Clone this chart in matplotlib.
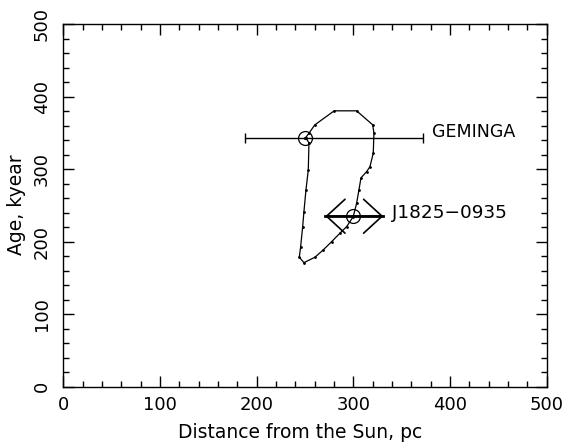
import numpy as np
import matplotlib
matplotlib.use("Agg")
import matplotlib.pyplot as plt
from matplotlib.ticker import MultipleLocator

# track of the common birth place (distance in pc, age in kyr)
track_dist = [250.7, 254.1, 260.2, 280.2, 303.4, 320.0, 321.3, 320.6, 317.2, 313.8,
              307.9, 305.8, 303.4, 299.9, 293.1, 286.1, 277.6, 268.9, 260.3, 248.9,
              244.1, 245.5, 247.6, 248.9, 251.0, 253.4, 254.1, 250.7]
track_age = [343.4, 349.5, 361.0, 380.3, 380.3, 361.0, 349.5, 322.0, 303.4, 296.6,
             287.9, 271.3, 253.0, 234.5, 220.7, 211.6, 200.0, 188.6, 178.5, 171.0,
             178.5, 193.1, 220.7, 241.4, 271.3, 298.9, 336.1, 343.4]

# pulsars
names = ["GEMINGA", "J1825\u22120935"]
psr_dist = [250, 300]
psr_age = [343, 235]
geminga_dist_lo = 188
geminga_dist_hi = 372
j1825_dist_lo = 271
j1825_dist_hi = 331

plt.rcParams["font.family"] = "DejaVu Sans"
fig = plt.figure(figsize=(5.65, 4.45), dpi=100)
ax = fig.add_axes([63.3 / 565, 1 - 386.7 / 445, 483.4 / 565, 362.7 / 445])

ax.plot(track_dist, track_age, color="black", lw=0.9, marker=".", ms=2)

# Geminga with distance error bar
ax.errorbar([psr_dist[0]], [psr_age[0]],
            xerr=[[psr_dist[0] - geminga_dist_lo], [geminga_dist_hi - psr_dist[0]]],
            fmt="none", ecolor="black", elinewidth=1.0, capsize=3.5, capthick=1.0)

# J1825-0935 with open arrows both sides
ax.plot([j1825_dist_lo, j1825_dist_hi], [psr_age[1], psr_age[1]], color="black", lw=2.0)
for end in (j1825_dist_lo, j1825_dist_hi):
    ax.annotate("", xy=(end, psr_age[1]), xytext=(psr_dist[1], psr_age[1]),
                arrowprops=dict(arrowstyle="->,head_length=1.33,head_width=1.22",
                                color="black", lw=1.2, shrinkA=0, shrinkB=0,
                                mutation_scale=10))

ax.plot(psr_dist, psr_age, linestyle="none", marker="o", ms=10, mfc="none",
        mec="black", mew=0.9)
ax.plot(psr_dist, psr_age, linestyle="none", marker=".", ms=2.5, color="black")

ax.text(381, 351, names[0], fontsize=12.5, va="center", ha="left")
ax.text(340, 240, names[1], fontsize=13.3, va="center", ha="left")

ax.set_xlim(0, 500)
ax.set_ylim(0, 500)
ax.xaxis.set_major_locator(MultipleLocator(100))
ax.xaxis.set_minor_locator(MultipleLocator(20))
ax.yaxis.set_major_locator(MultipleLocator(100))
ax.yaxis.set_minor_locator(MultipleLocator(20))
ax.tick_params(which="both", direction="in", top=True, right=True, width=1.0,
               labelsize=13, color="black")
ax.tick_params(which="major", length=8)
ax.tick_params(which="minor", length=4)
ax.tick_params(axis="x", pad=7)
ax.tick_params(axis="y", pad=9)
for lab in ax.get_yticklabels():
    lab.set_rotation(90)
    lab.set_va("center")
for sp in ax.spines.values():
    sp.set_linewidth(1.0)

fig.text(300 / 565, 1 - 438 / 445, "Distance from the Sun, pc", fontsize=13.5,
         ha="center", va="baseline")
fig.text(17 / 565, 1 - 205 / 445, "Age, kyear", fontsize=13.5, rotation=90,
         ha="center", va="center")

fig.savefig("out.png", dpi=100)
